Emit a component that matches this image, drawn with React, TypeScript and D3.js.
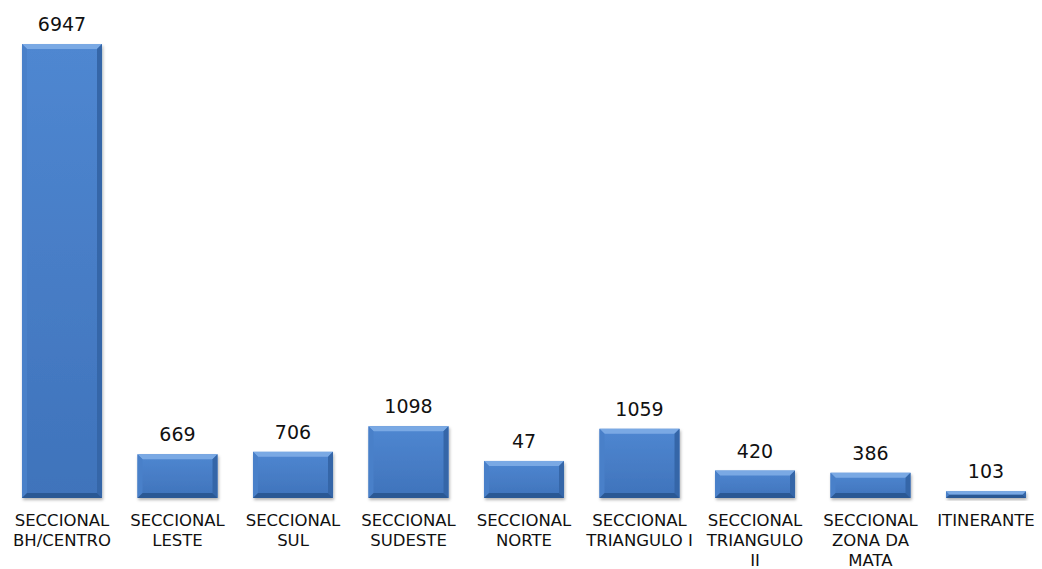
import React, { useEffect, useRef } from 'react';
import * as d3 from 'd3';

// categories (each entry = label lines)
const categories: string[][] = [
  ['SECCIONAL', 'BH/CENTRO'],
  ['SECCIONAL', 'LESTE'],
  ['SECCIONAL', 'SUL'],
  ['SECCIONAL', 'SUDESTE'],
  ['SECCIONAL', 'NORTE'],
  ['SECCIONAL', 'TRIANGULO I'],
  ['SECCIONAL', 'TRIANGULO', 'II'],
  ['SECCIONAL', 'ZONA DA', 'MATA'],
  ['ITINERANTE'],
];

// bar heights
const values = [6947, 669, 706, 1098, 567, 1059, 420, 386, 103];
// data labels as printed above the bars
const valueLabels = ['6947', '669', '706', '1098', '47', '1059', '420', '386', '103'];

const App: React.FC = () => {
  const svgRef = useRef<SVGSVGElement>(null);

  useEffect(() => {
    if (!svgRef.current) return;

    const width = 1042;
    const height = 569;
    const baseline = 498;

    const svg = d3.select(svgRef.current);
    svg.selectAll('*').remove();

    const defs = svg.append('defs');
    const grad = defs.append('linearGradient')
      .attr('id', 'face')
      .attr('x1', 0).attr('y1', 0).attr('x2', 0).attr('y2', 1);
    grad.append('stop').attr('offset', '0%').attr('stop-color', '#4f87d1');
    grad.append('stop').attr('offset', '100%').attr('stop-color', '#3f73bb');

    const shadow = defs.append('filter').attr('id', 'shadow')
      .attr('x', '-10%').attr('y', '-10%').attr('width', '130%').attr('height', '140%');
    shadow.append('feDropShadow')
      .attr('dx', 1).attr('dy', 2).attr('stdDeviation', 1.5)
      .attr('flood-color', '#000').attr('flood-opacity', 0.3);

    const soft = defs.append('filter').attr('id', 'soft');
    soft.append('feGaussianBlur').attr('stdDeviation', 0.6);

    const x = d3.scaleBand<number>()
      .domain(d3.range(values.length))
      .range([4.25, 1043.75])
      .paddingInner(0.307)
      .paddingOuter(0.1535);

    const y = d3.scaleLinear()
      .domain([0, 6947])
      .range([baseline, 44]);

    const bars = svg.append('g')
      .selectAll('g')
      .data(values)
      .enter().append('g')
      .attr('filter', 'url(#shadow)');

    bars.each(function (d, i) {
      const g = d3.select(this);
      const x0 = x(i)!;
      const w = x.bandwidth();
      const y0 = y(d);
      const h = baseline - y0;
      const b = Math.min(5, h / 2);
      const x1 = x0 + w;
      const y1 = baseline;

      g.append('rect')
        .attr('x', x0).attr('y', y0)
        .attr('width', w).attr('height', h)
        .attr('fill', 'url(#face)');

      const bevel = g.append('g').attr('filter', 'url(#soft)');
      const poly = (pts: [number, number][], fill: string) =>
        bevel.append('polygon')
          .attr('points', pts.map(p => p.join(',')).join(' '))
          .attr('fill', fill);

      // top bevel
      poly([[x0, y0], [x1, y0], [x1 - b, y0 + b], [x0 + b, y0 + b]], '#7aa9e4');
      // left bevel
      poly([[x0, y0], [x0 + b, y0 + b], [x0 + b, y1 - b], [x0, y1]], '#4a80c9');
      // right bevel
      poly([[x1, y0], [x1, y1], [x1 - b, y1 - b], [x1 - b, y0 + b]], '#3566a8');
      // bottom bevel
      poly([[x0, y1], [x0 + b, y1 - b], [x1 - b, y1 - b], [x1, y1]], '#2c5894');
    });

    // value labels
    svg.append('g')
      .selectAll('text')
      .data(values)
      .enter().append('text')
      .attr('x', (_, i) => x(i)! + x.bandwidth() / 2)
      .attr('y', d => y(d) - 13)
      .attr('text-anchor', 'middle')
      .attr('font-family', '"DejaVu Sans", Verdana, sans-serif')
      .attr('font-size', '19px')
      .attr('fill', '#111')
      .text((_, i) => valueLabels[i]);

    // category labels
    const cat = svg.append('g')
      .selectAll('text')
      .data(categories)
      .enter().append('text')
      .attr('text-anchor', 'middle')
      .attr('font-family', '"DejaVu Sans", Verdana, sans-serif')
      .attr('font-size', '16.5px')
      .attr('fill', '#111');

    cat.each(function (lines, i) {
      const t = d3.select(this);
      lines.forEach((line, k) => {
        t.append('tspan')
          .attr('x', x(i)! + x.bandwidth() / 2)
          .attr('y', 526 + k * 20)
          .text(line);
      });
    });

    svg.attr('width', width).attr('height', height);
  }, []);

  return (
    <svg
      ref={svgRef}
      width={1042}
      height={569}
      style={{ position: 'absolute', left: 0, top: 0, background: '#fff' }}
    />
  );
};

export default App;
